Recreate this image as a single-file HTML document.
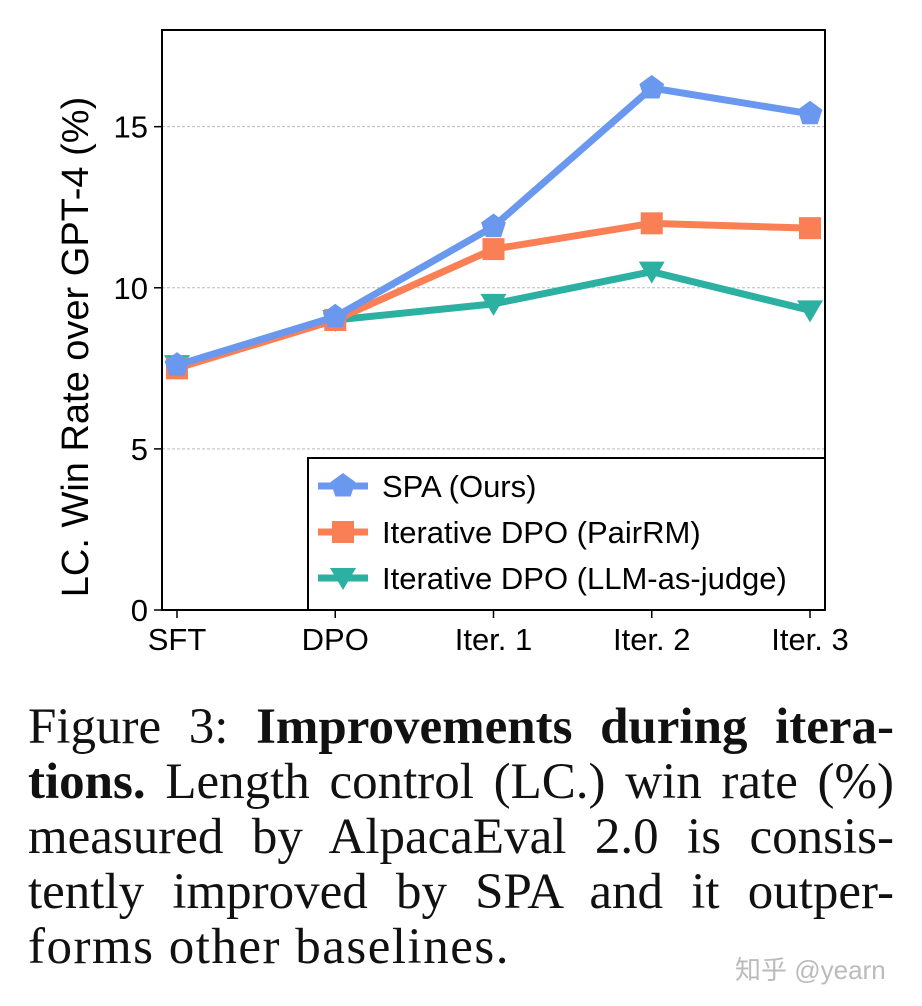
<!DOCTYPE html>
<html><head><meta charset="utf-8">
<style>
body{margin:0;background:#fff;width:922px;height:1006px;overflow:hidden;position:relative;font-family:"Liberation Sans",sans-serif;}
.cap{position:absolute;left:28px;width:866px;font-family:"Liberation Serif",serif;font-size:51px;white-space:nowrap;color:#111;line-height:60px;}
.j{text-align:justify;text-align-last:justify;}
</style></head><body>
<svg id="chart" width="922" height="680" style="position:absolute;left:0;top:0" font-family="Liberation Sans, sans-serif"></svg>
<div class="cap j" style="top:697px">Figure 3: <b>Improvements during itera-</b></div>
<div class="cap j" style="top:752px"><b>tions.</b> Length control (LC.) win rate (%)</div>
<div class="cap j" style="top:807px">measured by AlpacaEval 2.0 is consis-</div>
<div class="cap j" style="top:862px">tently improved by SPA and it outper-</div>
<div class="cap" style="top:917px;letter-spacing:1.5px">forms other baselines.</div>
<div style="position:absolute;left:735px;top:950px;font-size:26px;color:#bbb;font-family:'Liberation Sans','Noto Sans CJK SC',sans-serif">知乎 @yearn</div>
<script>
const categories=["SFT","DPO","Iter. 1","Iter. 2","Iter. 3"];
const spaValues=[7.6,9.1,11.9,16.2,15.4];
const pairrmValues=[7.5,9.0,11.2,12.0,11.85];
const judgeValues=[7.6,9.0,9.5,10.5,9.3];
const yTicks=[0,5,10,15];
const seriesNames=["SPA (Ours)","Iterative DPO (PairRM)","Iterative DPO (LLM-as-judge)"];
const NS="http://www.w3.org/2000/svg";
const svg=document.getElementById('chart');
const L=162,R=825,T=30,B=610,yMax=18;
const x=i=>177+i*(810-177)/(categories.length-1);
const y=v=>B-(v/yMax)*(B-T);
function mk(t,a,p){const e=document.createElementNS(NS,t);for(const k in a)e.setAttribute(k,a[k]);(p||svg).appendChild(e);return e;}
yTicks.forEach(v=>{
 if(v>0){const g=mk('line',{x1:L,x2:R,y1:y(v),y2:y(v),stroke:'#bbb','stroke-dasharray':'3,2','stroke-width':1});
 
 }
 const tk=mk('line',{x1:L-8,x2:L,y1:y(v),y2:y(v),stroke:'#000','stroke-width':1.5});
 
 
 const t=mk('text',{x:L-14,y:y(v)+11,'text-anchor':'end','font-size':31});t.textContent=v;
 
 
});
categories.forEach((c,i)=>{
 const tk=mk('line',{x1:x(i),x2:x(i),y1:B,y2:B+8,stroke:'#000','stroke-width':1.5});
 
 
 const t=mk('text',{x:x(i),y:B+40,'text-anchor':'middle','font-size':31});t.textContent=c;
 
 
});
const yl=mk('text',{transform:'translate(88,347) rotate(-90)','text-anchor':'middle','font-size':38});yl.textContent='LC. Win Rate over GPT-4 (%)';


function marker(kind,cx,cy,col,p){
 let e;
 if(kind==='pent'){let pts=[];for(let k=0;k<5;k++){const a=-Math.PI/2+k*2*Math.PI/5;pts.push((cx+13*Math.cos(a))+','+(cy+13*Math.sin(a)));}e=mk('polygon',{points:pts.join(' '),fill:col},p);}
 else if(kind==='sq'){e=mk('rect',{x:cx-11,y:cy-11,width:22,height:22,fill:col},p);}
 else{e=mk('polygon',{points:`${cx-13},${cy-10} ${cx+13},${cy-10} ${cx},${cy+12}`,fill:col},p);}
 return e;
}
const series=[[judgeValues,'#2bb0a2','tri'],[pairrmValues,'#fb7f55','sq'],[spaValues,'#6a98ef','pent']];
series.forEach(([vals,col,kind],si)=>{
 const g=mk('g',{});
 
 
 const pl=mk('polyline',{points:vals.map((v,i)=>x(i)+','+y(v)).join(' '),fill:'none',stroke:col,'stroke-width':7,'stroke-linejoin':'round'},g);
 
 
 vals.forEach((v,i)=>{const m=marker(kind,x(i),y(v),col,g);
 
 });
});
const fr=mk('rect',{x:L,y:T,width:R-L,height:B-T,fill:'none',stroke:'#000','stroke-width':2});


const lg=mk('g',{});


mk('rect',{x:308,y:458,width:517,height:152,fill:'#fff',stroke:'#000','stroke-width':2},lg);
const lk=[['pent','#6a98ef'],['sq','#fb7f55'],['tri','#2bb0a2']];
lk.forEach(([k,c],i)=>{
 const cy=486+i*46;
 const e=mk('g',{},lg);
 
 
 mk('line',{x1:318,x2:368,y1:cy,y2:cy,stroke:c,'stroke-width':7},e);
 marker(k,343,cy,c,e);
 const t=mk('text',{x:382,y:cy+11,'font-size':31},e);t.textContent=seriesNames[i];
});
</script>
</body></html>
